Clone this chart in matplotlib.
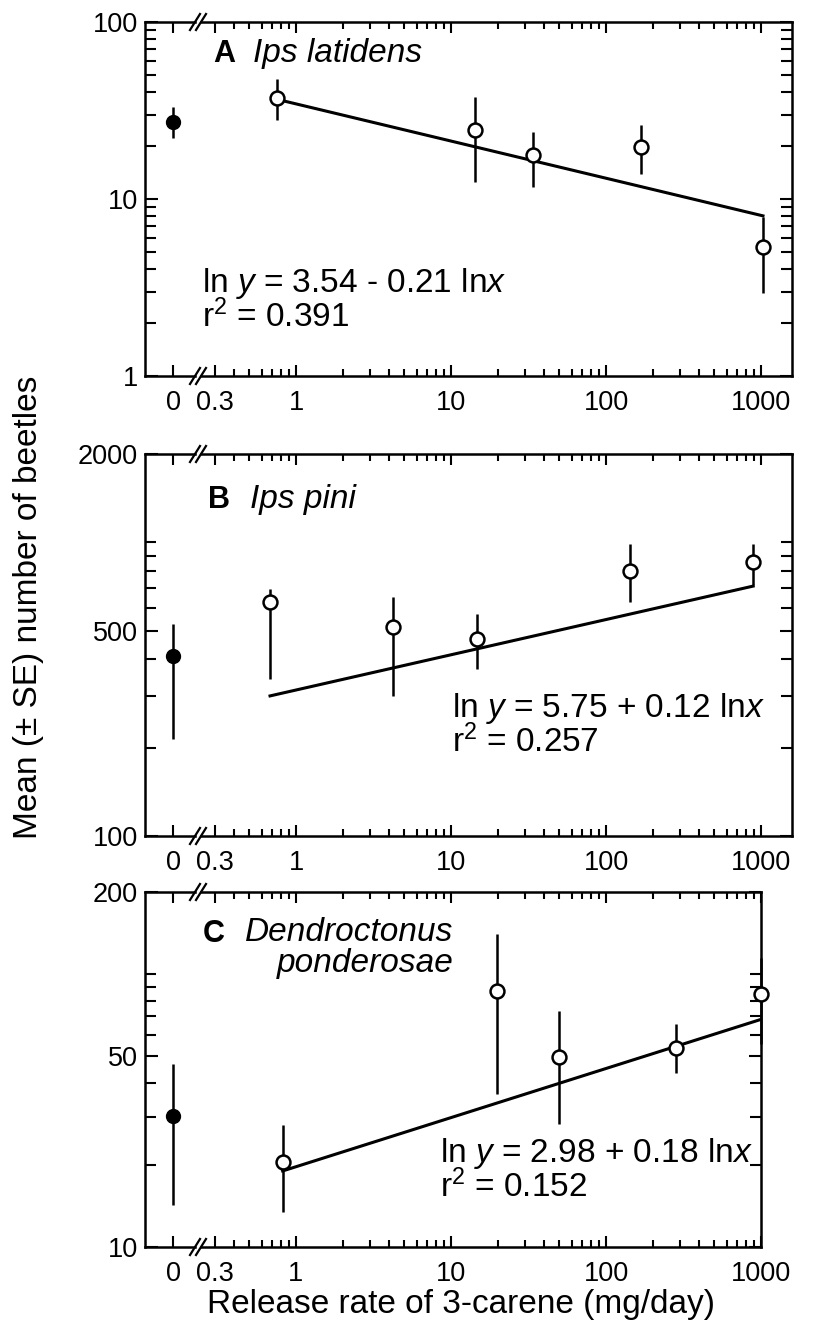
"""Trap catches of three bark beetle species against 3-carene release rate.

Three stacked log-log panels with a broken x axis (unbaited control at 0).
"""

import matplotlib
matplotlib.use("Agg")
import matplotlib.pyplot as plt
import numpy as np
from matplotlib.lines import Line2D
from matplotlib.ticker import NullFormatter

plt.rcParams["font.family"] = ["Liberation Sans", "DejaVu Sans"]
plt.rcParams["mathtext.fontset"] = "custom"
plt.rcParams["mathtext.rm"] = "Liberation Sans"
plt.rcParams["mathtext.it"] = "Liberation Sans:italic"
plt.rcParams["mathtext.bf"] = "Liberation Sans:bold"

# --- values: mean, lower and upper end of the SE bar ---
# A: Ips latidens
a_ctrl = [27.2, 22.1, 33.1]
a_rate = [0.75, 14.3, 34, 168, 1030]
a_mean = [37.2, 24.5, 17.7, 19.7, 5.35]
a_lo = [27.9, 12.5, 11.7, 13.8, 2.94]
a_hi = [47.6, 37.7, 23.9, 26.2, 7.9]
a_fit = [3.54, -0.21]  # ln y = b0 + b1 ln x
a_r2 = "0.391"

# B: Ips pini
b_ctrl = [409, 214, 528]
b_rate = [0.68, 4.2, 14.7, 142, 890]
b_mean = [626, 516, 467, 798, 856]
b_lo = [342, 299, 370, 627, 716]
b_hi = [694, 652, 571, 985, 985]
b_fit = [5.75, 0.12]
b_r2 = "0.257"

# C: Dendroctonus ponderosae
c_ctrl = [30.1, 14.3, 46.7]
c_rate = [0.82, 19.8, 50, 282, 1000]
c_mean = [20.5, 86.6, 49.9, 53.5, 84.4]
c_lo = [13.4, 36.5, 28.3, 43.3, 55.3]
c_hi = [28.1, 140, 73.1, 65.5, 114.5]
c_fit = [2.98, 0.18]
c_r2 = "0.152"

x_ticks = [0.3, 1, 10, 100, 1000]
x_ticklabels = ["0.3", "1", "10", "100", "1000"]

# --- layout in pixels of the 822 x 1336 canvas ---
W, H = 822, 1336
X_ONE, DECADE = 296, 155        # pixel of x = 1 and width of one decade
CTRL_L, CTRL_R, MAIN_L = 145, 195, 201


def box(x0, x1, top, bot):
    return [x0 / W, 1 - bot / H, (x1 - x0) / W, (bot - top) / H]


def fx(px):
    return px / W


def fy(py):
    return 1 - py / H


# text positions: left x and baseline of the LAST line, in pixels
panels = [
    dict(ctrl=a_ctrl, rate=a_rate, mean=a_mean, lo=a_lo, hi=a_hi, fit=a_fit, r2=a_r2,
         top=22, bot=376, xmax=1585, ylim=(1, 100),
         yticks=[1, 10, 100], yminor=[2, 3, 4, 5, 6, 7, 8, 9, 20, 30, 40, 50, 60, 70, 80, 90],
         letter="A", letter_xy=(213, 62), name="Ips latidens", name_xy=(253, 62),
         eq_xy=(202, 327)),
    dict(ctrl=b_ctrl, rate=b_rate, mean=b_mean, lo=b_lo, hi=b_hi, fit=b_fit, r2=b_r2,
         top=454, bot=836, xmax=1585, ylim=(100, 2000),
         yticks=[100, 500, 2000], yminor=[200, 300, 400, 600, 700, 800, 900, 1000],
         letter="B", letter_xy=(208, 508), name="Ips pini", name_xy=(250, 508),
         eq_xy=(452, 752)),
    dict(ctrl=c_ctrl, rate=c_rate, mean=c_mean, lo=c_lo, hi=c_hi, fit=c_fit, r2=c_r2,
         top=892, bot=1247, xmax=1000, ylim=(10, 200),
         yticks=[10, 50, 200], yminor=[20, 30, 40, 60, 70, 80, 90, 100],
         letter="C", letter_xy=(203, 942), name="Dendroctonus\nponderosae",
         name_xy=(245, 972), eq_xy=(440, 1197)),
]

fig = plt.figure(figsize=(W / 100, H / 100), dpi=100)

LW = 1.8
for p in panels:
    top, bot = p["top"], p["bot"]
    x_right = X_ONE + DECADE * np.log10(p["xmax"])
    x_min = 10 ** ((MAIN_L - X_ONE) / DECADE)

    ax0 = fig.add_axes(box(CTRL_L, CTRL_R, top, bot))
    ax = fig.add_axes(box(MAIN_L, x_right, top, bot))

    for a in (ax0, ax):
        a.set_yscale("log")
        a.set_ylim(*p["ylim"])
        a.set_yticks(p["yticks"])
        a.set_yticks(p["yminor"], minor=True)
        a.yaxis.set_minor_formatter(NullFormatter())
        for s in a.spines.values():
            s.set_linewidth(LW)
        a.tick_params(which="both", direction="in", width=1.5, labelsize=19.5)
        a.tick_params(axis="y", which="major", length=9, pad=5)
        a.tick_params(axis="y", which="minor", length=8)
        a.tick_params(axis="x", which="major", length=8, pad=10)
        a.tick_params(axis="x", which="minor", length=5)
        a.tick_params(axis="x", which="both", top=True, bottom=True)

    ax0.set_yticklabels([str(v) for v in p["yticks"]])
    ax0.spines["right"].set_visible(False)
    ax0.tick_params(axis="y", which="both", left=True, right=False)
    ax0.set_xlim(-28, 22)
    ax0.set_xticks([0])
    ax0.set_xticklabels(["0"])

    ax.spines["left"].set_visible(False)
    ax.tick_params(axis="y", which="both", left=False, right=True, labelleft=False)
    ax.set_xscale("log")
    ax.set_xlim(x_min, p["xmax"])
    ax.set_xticks(x_ticks)
    ax.set_xticklabels(x_ticklabels)
    ax.xaxis.set_minor_formatter(NullFormatter())

    # unbaited control
    m, lo, hi = p["ctrl"]
    ax0.errorbar([0], [m], yerr=[[m - lo], [hi - m]], fmt="o", color="black",
                 ms=10, elinewidth=LW, capsize=0, clip_on=False, zorder=3)

    # fitted line ln y = b0 + b1 ln x across the baited treatments
    b0, b1 = p["fit"]
    xs = np.array([p["rate"][0], p["rate"][-1]])
    ax.plot(xs, np.exp(b0 + b1 * np.log(xs)), color="black", lw=2.2, zorder=2)

    mean = np.array(p["mean"])
    yerr = [mean - np.array(p["lo"]), np.array(p["hi"]) - mean]
    ax.errorbar(p["rate"], mean, yerr=yerr, fmt="o", mfc="white", mec="black",
                ecolor="black", ms=10, mew=LW, elinewidth=LW, capsize=0,
                clip_on=False, zorder=3)

    # break marks on top and bottom spines
    for y in (top, bot):
        for x in (CTRL_R, MAIN_L):
            fig.add_artist(Line2D([fx(x - 5), fx(x + 5)], [fy(y + 8), fy(y - 8)],
                                  color="black", lw=1.6))

    # panel label and species name (second line right-aligned under the first)
    lx, ly = p["letter_xy"]
    fig.text(fx(lx), fy(ly), p["letter"], fontsize=22, fontweight="bold", va="baseline")
    nx, ny = p["name_xy"]
    fig.text(fx(nx), fy(ny), p["name"], fontsize=24, style="italic",
             va="baseline", multialignment="right", linespacing=1.0)

    # regression equation
    ex, ey = p["eq_xy"]
    sign = "-" if b1 < 0 else "+"
    eq = f"ln $y$ = {b0:.2f} {sign} {abs(b1):.2f} ln$x$\nr$^2$ = {p['r2']}"
    fig.text(fx(ex), fy(ey), eq, fontsize=24, va="baseline", linespacing=0.95)

fig.text(fx(461), fy(1313), "Release rate of 3-carene (mg/day)", fontsize=24,
         ha="center", va="baseline")
fig.text(fx(29), fy(607), "Mean (\u00b1 SE) number of beetles", fontsize=24,
         rotation=90, ha="center", va="center")

fig.savefig("out.png", dpi=100)
